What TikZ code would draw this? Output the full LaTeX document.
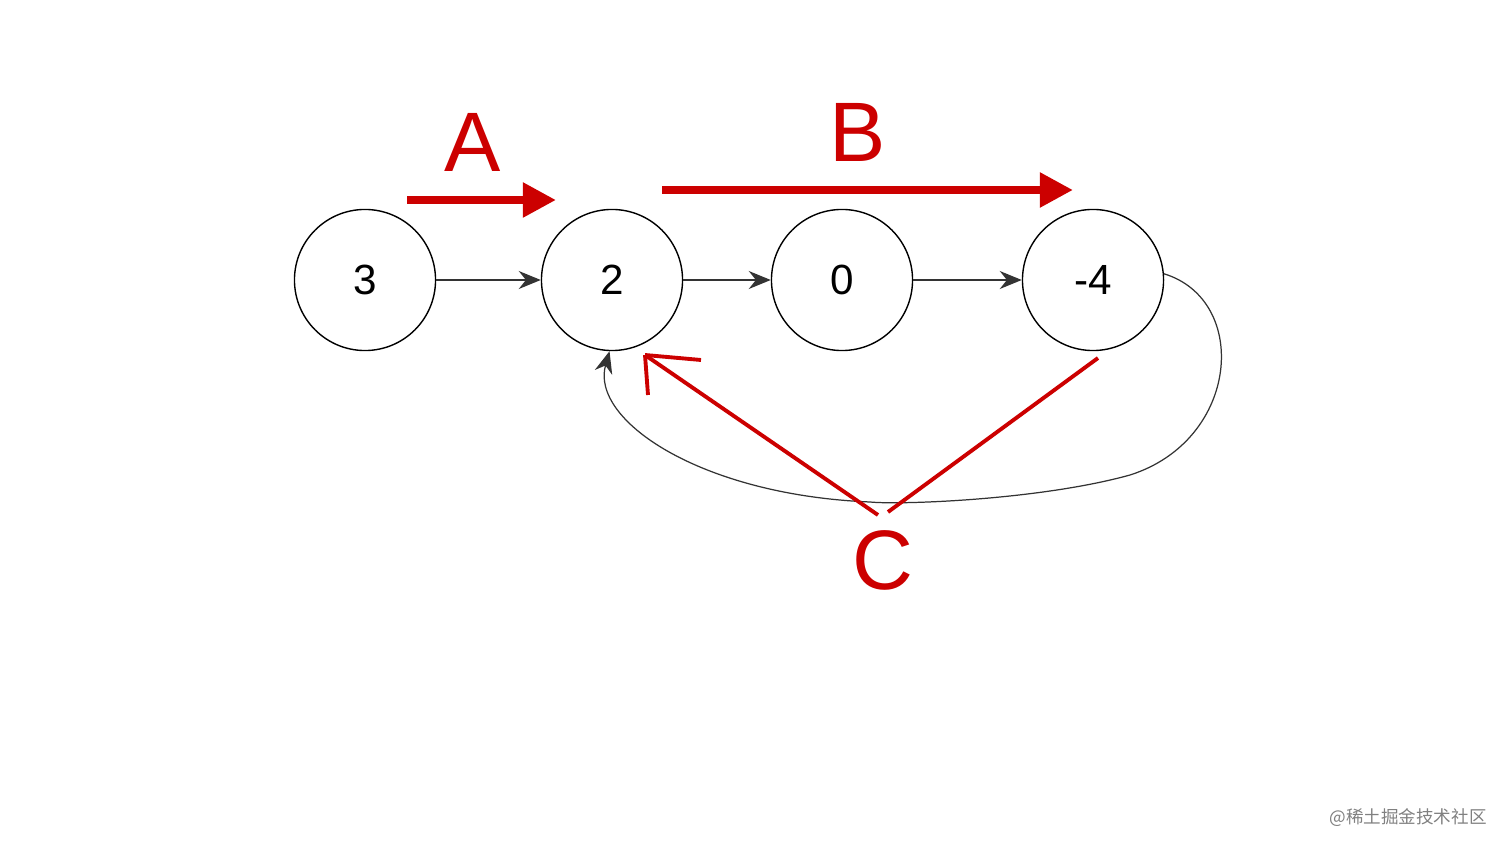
\documentclass[tikz,border=0pt]{standalone}
\usepackage{fontspec}
\setmainfont{Liberation Sans}
\newfontfamily\cjk{Noto Sans CJK SC}
\usetikzlibrary{arrows.meta,positioning}

\begin{document}
\begin{tikzpicture}[x=0.01cm, y=-0.01cm, node distance=0mm and 0.9cm, main/.style = {draw, circle, minimum size=1.41cm, inner sep=0pt, font=\fontsize{12}{14}\selectfont}, link/.style = {-{Stealth[length=2.2mm,width=1.8mm]}, line width=0.35pt, draw=black!80}, redline/.style = {draw=red!80!black, line width=1.1pt}, bigarrow/.style = {line width=0.8mm, draw=red!80!black, -{Triangle[length=3.3mm,width=3.3mm]}}, letter/.style = {text=red!80!black, font=\fontsize{24}{28}\selectfont}]
\useasboundingbox (0,0) rectangle (1512,852);
\node[main] (three) at (365,280) {3};
\node[main] (two) at (612,280) {2};
\node[main] (zero) at (842,280) {0};
\node[main] (minus) at (1093,280) {-4};
\draw[link] (three) -- (two);
\draw[link] (two) -- (zero);
\draw[link] (zero) -- (minus);
\draw[link] (minus.5) .. controls (1250,300) and (1240,440) .. (1130,475) .. controls (1040,500) and (900,505) .. (870,502) .. controls (700,495) and (590,420) .. (two.268);
% red notes
\coordinate (astart) at (407,200);
\coordinate (aend) at (556,200);
\draw[bigarrow] (astart) -- (aend);
\node[letter] (la) at (473,142) {A};
\coordinate (bstart) at (662,190);
\coordinate (bend) at (1073,190);
\draw[bigarrow] (bstart) -- (bend);
\node[letter] (lb) at (858,132) {B};
\node[letter] (lc) at (883,560) {C};
\coordinate (ctip) at (645,355);
\coordinate (cleft) at (878,515);
\coordinate (cright) at (888,512);
\coordinate (cend) at (1098,358);
\coordinate (hone) at (701,360);
\coordinate (htwo) at (648,395);
\draw[redline] (cleft) -- (ctip);
\draw[redline] (ctip) -- (hone);
\draw[redline] (ctip) -- (htwo);
\draw[redline] (cright) -- (cend);
\node[text=gray, font=\cjk\fontsize{5}{6}\selectfont] (wm) at (1408,818) {@稀土掘金技术社区};
\end{tikzpicture}
\end{document}
